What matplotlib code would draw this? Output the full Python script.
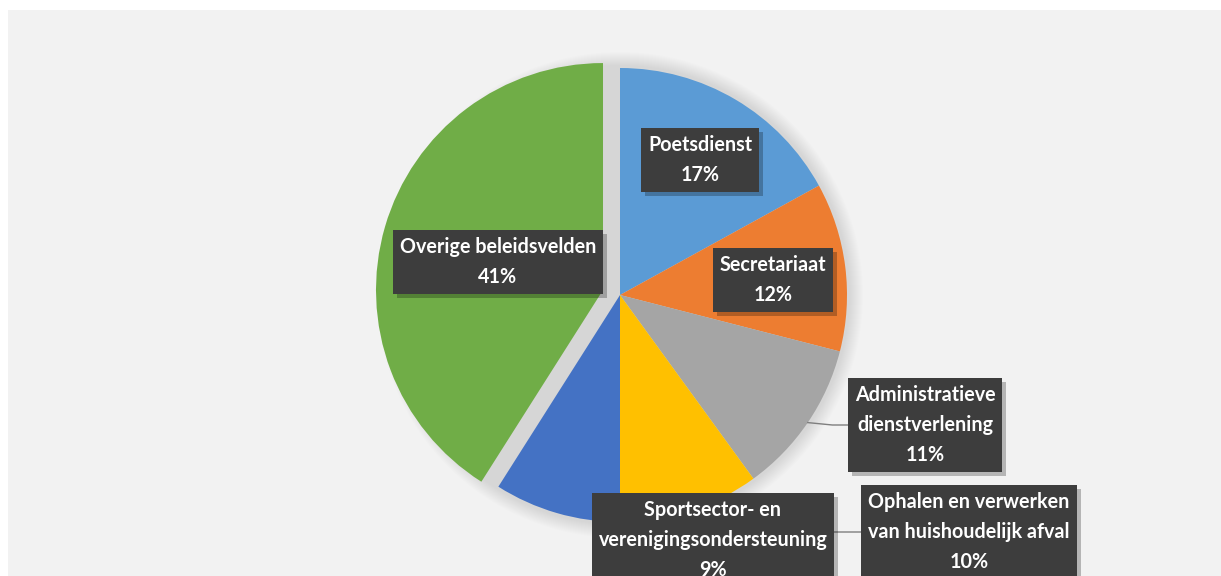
import matplotlib.pyplot as plt
import numpy as np

# data (clockwise from 12 o'clock)
labels = ['Poetsdienst', 'Secretariaat', 'Administratieve\ndienstverlening',
          'Ophalen en verwerken\nvan huishoudelijk afval',
          'Sportsector- en\nverenigingsondersteuning', 'Overige beleidsvelden']
values = [17, 12, 11, 10, 9, 41]
colors = ['#5B9BD5', '#ED7D31', '#A5A5A5', '#FFC000', '#4472C4', '#70AD47']

W, H = 1221, 576
cx, cy, r = 620, 295, 227          # pie centre/radius in image pixels
# label box centres (image pixels)
label_pos = [(700, 160), (773, 280), (925, 425), (969, 532), (713, 540), (498, 262)]
leader = [False, False, True, True, False, False]

fig = plt.figure(figsize=(W / 100, H / 100), dpi=100, facecolor='white')
ax = fig.add_axes([0, 0, 1, 1])

# chart area background
ax.add_patch(plt.Rectangle((8, 0), W - 8, H - 10, fc='#F2F2F2', ec='none', zorder=0))

# soft shadow around the pie
for k in range(14):
    ax.add_patch(plt.Circle((cx, H - cy), r + 16 - k, fc='#000000', alpha=0.009, ec='none', zorder=1))

explode = [0, 0, 0, 0, 0, 17.7]
wedges, _ = ax.pie(values, colors=colors, startangle=90, counterclock=False,
                   center=(cx, H - cy), radius=r, explode=explode,
                   wedgeprops=dict(linewidth=0))
for w in wedges:
    w.set_zorder(2)

ax.set_xlim(0, W)
ax.set_ylim(0, H)
ax.set_aspect('equal')
ax.axis('off')

# labels
total = sum(values)
cum = np.cumsum([0] + values)
texts = []
for i, (lab, v) in enumerate(zip(labels, values)):
    pct = round(100 * v / total)
    tx, ty = label_pos[i]
    if leader[i]:
        mid = np.deg2rad(90 - 360 * (cum[i] + v / 2) / total)
        sx = cx + r * np.cos(mid)
        sy = (H - cy) + r * np.sin(mid)
        ax.plot([sx, sx + 0.6 * (tx - sx) * 0.35, tx], [sy, H - ty, H - ty],
                color='#7F7F7F', lw=1, zorder=3)
    t = ax.text(tx, H - ty, f'{lab}\n{pct}%', color='white', zorder=5,
                ha='center', va='center', fontsize=14.2, fontweight='bold',
                family=['Lato', 'DejaVu Sans'], linespacing=1.6,
                bbox=dict(boxstyle='square,pad=0.35', fc='#3D3D3D', ec='none'))
    texts.append(t)

# drop shadows behind the label boxes
fig.canvas.draw()
inv = ax.transData.inverted()
for t in texts:
    bb = t.get_bbox_patch().get_window_extent()
    (x0, y0), (x1, y1) = inv.transform([[bb.x0, bb.y0], [bb.x1, bb.y1]])
    ax.add_patch(plt.Rectangle((x0 + 4, y0 - 4), x1 - x0, y1 - y0,
                               fc='#000000', alpha=0.25, ec='none', zorder=4))

fig.savefig('out.png', dpi=100, facecolor='white')
